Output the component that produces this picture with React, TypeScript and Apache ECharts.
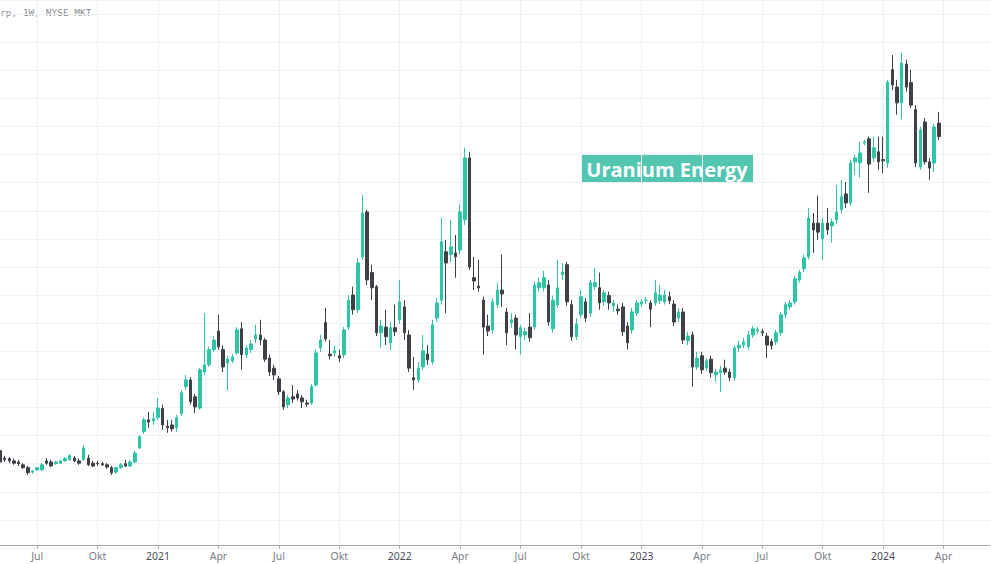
import React, { useEffect, useRef } from "react";
import * as echarts from "echarts";

// Weekly bars (Monday dates), first bar and number of category slots (incl. empty right margin)
const FIRST_WEEK = "2020-05-11";
const WEEK_SLOTS = 214;

// [open, close, low, high] in USD, one per week
const ohlc: number[][] = [
  [1.23, 1.03, 1.0, 1.28], [1.1, 1.07, 1.03, 1.14], [1.09, 1.05, 1.01, 1.12], [1.05, 1.01, 0.98, 1.09],
  [1.03, 1.0, 0.96, 1.07], [0.98, 0.93, 0.91, 1.01], [0.93, 0.84, 0.8, 0.96], [0.85, 0.87, 0.82, 0.89],
  [0.89, 0.93, 0.87, 0.94], [0.89, 0.98, 0.87, 1.01], [1.05, 1.01, 0.98, 1.1], [1.03, 0.96, 0.94, 1.07],
  [1.0, 1.03, 0.98, 1.05], [1.01, 1.05, 1.0, 1.07], [1.05, 1.09, 1.03, 1.12], [1.07, 1.14, 1.05, 1.17],
  [1.1, 1.05, 1.03, 1.14], [1.05, 1.01, 0.98, 1.09], [1.07, 1.28, 1.05, 1.33], [1.1, 0.98, 0.96, 1.16],
  [1.01, 0.96, 0.94, 1.05], [1.01, 1.0, 0.96, 1.05], [1.0, 0.98, 0.96, 1.03], [0.98, 0.94, 0.91, 1.01],
  [0.93, 0.84, 0.8, 0.96], [0.85, 0.93, 0.82, 0.94], [0.93, 0.98, 0.91, 1.01], [1.0, 0.96, 0.94, 1.07],
  [0.96, 1.03, 0.94, 1.07], [1.03, 1.19, 1.01, 1.23], [1.28, 1.48, 1.26, 1.51], [1.57, 1.78, 1.53, 1.82],
  [1.78, 1.74, 1.64, 1.92], [1.76, 1.8, 1.69, 1.92], [1.82, 1.99, 1.78, 2.17], [1.98, 1.69, 1.6, 2.05],
  [1.67, 1.64, 1.55, 1.78], [1.69, 1.62, 1.57, 1.78], [1.64, 1.82, 1.57, 1.87], [1.89, 2.26, 1.85, 2.31],
  [2.37, 2.49, 2.31, 2.58], [2.49, 2.1, 2.05, 2.54], [2.19, 2.01, 1.9, 2.24], [1.99, 2.67, 1.96, 2.7],
  [2.63, 2.76, 2.58, 3.68], [2.76, 3.03, 2.72, 3.08], [3.03, 3.2, 2.99, 3.27], [3.36, 3.08, 3.03, 3.65],
  [3.03, 2.72, 2.63, 3.11], [2.79, 2.86, 2.31, 2.92], [2.83, 2.9, 2.79, 2.95], [2.97, 3.38, 2.94, 3.43],
  [3.4, 2.94, 2.67, 3.52], [2.94, 3.06, 2.88, 3.11], [3.03, 3.13, 2.97, 3.2], [3.22, 3.29, 3.15, 3.47],
  [3.29, 3.2, 3.11, 3.56], [3.2, 2.86, 2.81, 3.24], [2.88, 2.63, 2.56, 2.94], [2.7, 2.58, 2.49, 2.76],
  [2.51, 2.28, 2.22, 2.56], [2.28, 2.01, 1.96, 2.31], [2.05, 2.17, 1.99, 2.22], [2.19, 2.15, 2.08, 2.4],
  [2.24, 2.17, 2.12, 2.31], [2.17, 2.1, 1.99, 2.22], [2.08, 2.06, 2.01, 2.14], [2.08, 2.37, 2.05, 2.42],
  [2.4, 2.97, 2.37, 3.03], [3.06, 3.2, 2.99, 3.29], [3.51, 3.22, 3.17, 3.77], [2.95, 2.92, 2.85, 3.2],
  [2.97, 3.01, 2.9, 3.1], [2.92, 2.88, 2.81, 3.03], [2.94, 3.38, 2.88, 3.43], [3.43, 3.91, 3.38, 4.0],
  [4.0, 3.74, 3.65, 4.15], [3.74, 4.57, 3.68, 4.66], [4.68, 5.46, 4.63, 5.78], [5.48, 4.27, 4.18, 5.52],
  [4.4, 4.13, 3.91, 4.54], [4.15, 3.33, 3.27, 4.18], [3.33, 3.45, 3.06, 3.56], [3.43, 3.26, 3.11, 3.74],
  [3.15, 3.42, 3.03, 3.52], [3.42, 3.35, 3.27, 3.83], [3.56, 3.88, 3.49, 4.27], [3.79, 3.33, 3.2, 3.91],
  [3.29, 2.7, 2.63, 3.38], [2.53, 2.49, 2.31, 2.9], [2.49, 2.7, 2.44, 2.81], [2.72, 3.01, 2.67, 3.29],
  [2.95, 2.85, 2.76, 3.11], [2.81, 3.47, 2.76, 3.56], [3.59, 3.86, 3.52, 3.95], [3.91, 4.95, 3.83, 5.37],
  [4.77, 4.57, 3.68, 4.98], [4.72, 4.86, 4.59, 5.34], [4.75, 4.68, 4.31, 5.07], [4.8, 5.48, 4.72, 5.61],
  [5.34, 6.44, 5.25, 6.62], [6.44, 4.5, 4.45, 6.55], [4.31, 4.25, 4.09, 4.68], [4.16, 4.13, 4.06, 4.63],
  [3.91, 3.43, 2.94, 3.97], [3.45, 3.36, 3.27, 3.65], [3.38, 3.88, 3.31, 3.95], [3.83, 4.09, 3.77, 4.22],
  [4.09, 4.02, 3.79, 4.72], [3.7, 3.33, 3.11, 3.77], [3.51, 3.56, 3.42, 3.68], [3.59, 3.29, 3.03, 3.65],
  [3.26, 3.42, 2.94, 3.47], [3.29, 3.35, 3.2, 3.42], [3.43, 3.24, 3.17, 3.68], [3.43, 4.18, 3.38, 4.24],
  [4.13, 4.22, 4.06, 4.31], [4.13, 4.31, 4.06, 4.43], [4.18, 3.52, 3.45, 4.27], [3.4, 3.91, 3.33, 3.99],
  [3.83, 4.13, 3.77, 4.63], [4.36, 4.41, 4.27, 4.57], [4.54, 3.88, 3.81, 4.59], [3.83, 3.26, 3.19, 3.91],
  [3.26, 3.49, 3.2, 3.59], [3.65, 3.97, 3.59, 4.09], [3.88, 3.59, 3.52, 3.95], [3.68, 4.22, 3.61, 4.27],
  [4.15, 4.22, 4.09, 4.48], [4.13, 3.86, 3.74, 4.4], [3.88, 4.04, 3.81, 4.09], [3.99, 3.86, 3.74, 4.06],
  [3.81, 3.86, 3.7, 3.91], [3.75, 3.72, 3.65, 3.83], [3.79, 3.35, 3.27, 3.86], [3.45, 3.15, 3.03, 3.52],
  [3.38, 3.7, 3.31, 3.77], [3.68, 3.86, 3.63, 3.91], [3.84, 3.88, 3.79, 3.93], [3.9, 3.91, 3.84, 3.97],
  [3.86, 3.75, 3.43, 3.91], [3.86, 4.04, 3.81, 4.27], [3.9, 4.0, 3.84, 4.18], [3.88, 4.0, 3.83, 4.09],
  [3.97, 3.9, 3.84, 4.06], [3.84, 3.52, 3.45, 3.91], [3.59, 3.7, 3.52, 3.77], [3.7, 3.2, 3.13, 3.77],
  [3.19, 3.27, 3.11, 3.35], [3.29, 2.72, 2.37, 3.35], [2.72, 2.88, 2.67, 2.99], [2.92, 2.67, 2.6, 2.99],
  [2.7, 2.83, 2.65, 2.88], [2.86, 2.62, 2.53, 2.92], [2.58, 2.63, 2.46, 2.69], [2.62, 2.67, 2.28, 2.74],
  [2.7, 2.63, 2.58, 2.85], [2.63, 2.53, 2.47, 2.69], [2.53, 3.06, 2.47, 3.11], [3.06, 3.11, 2.99, 3.19],
  [3.11, 3.17, 3.06, 3.24], [3.08, 3.29, 3.03, 3.36], [3.29, 3.4, 3.24, 3.45], [3.36, 3.38, 3.31, 3.43],
  [3.35, 3.33, 3.27, 3.4], [3.27, 3.11, 2.88, 3.33], [3.17, 3.1, 3.03, 3.22], [3.17, 3.33, 3.11, 3.38],
  [3.33, 3.65, 3.27, 3.7], [3.65, 3.83, 3.59, 3.88], [3.79, 3.86, 3.74, 3.91], [3.88, 4.29, 3.83, 4.34],
  [4.27, 4.4, 4.22, 4.45], [4.47, 4.66, 4.41, 4.72], [4.68, 5.37, 4.63, 5.55], [5.28, 5.16, 4.75, 5.46],
  [5.28, 5.12, 4.98, 5.77], [5.0, 5.28, 4.63, 5.37], [5.28, 5.16, 5.07, 5.55], [5.23, 5.3, 4.93, 5.36],
  [5.34, 5.48, 5.27, 5.96], [5.52, 5.75, 5.45, 6.05], [5.8, 5.64, 5.55, 6.01], [5.64, 6.35, 5.59, 6.41],
  [6.37, 6.44, 6.14, 6.5], [6.35, 6.53, 6.09, 6.73], [6.71, 6.73, 6.67, 6.76], [6.78, 6.33, 5.82, 6.82],
  [6.44, 6.62, 6.37, 6.82], [6.55, 6.37, 6.23, 6.82], [6.41, 6.39, 6.17, 6.82], [6.35, 7.79, 6.26, 7.83],
  [8.01, 7.74, 7.65, 8.27], [7.7, 7.42, 7.21, 7.83], [7.42, 8.13, 7.12, 8.31], [8.11, 7.7, 7.62, 8.19],
  [7.78, 7.38, 7.33, 8.01], [7.3, 6.35, 6.28, 7.38], [6.28, 6.94, 6.23, 6.99], [7.08, 6.37, 6.32, 7.15],
  [6.37, 6.26, 6.05, 6.44], [6.35, 6.99, 6.19, 7.05], [7.06, 6.82, 6.76, 7.26],
];

const quarterNames: Record<number, string> = { 3: "Apr", 6: "Jul", 9: "Okt" };
const priceMin = -0.5;
const priceMax = 9.25;
const priceStep = 0.5;

const TITLE_TEXT = "rp, 1W, NYSE MKT";
const BADGE_TEXT = "Uranium Energy";

const UP = "#2ec4a6";
const DOWN = "#3f4046";
const GRID = "#edf0f5";

function buildWeeks(): string[] {
  const out: string[] = [];
  const start = new Date(FIRST_WEEK + "T00:00:00Z").getTime();
  for (let i = 0; i < WEEK_SLOTS; i++) {
    out.push(new Date(start + i * 7 * 86400000).toISOString().slice(0, 10));
  }
  return out;
}

function isQuarterStart(value: string): boolean {
  const d = new Date(value + "T00:00:00Z");
  return d.getUTCDate() <= 7 && d.getUTCMonth() % 3 === 0;
}

export default function App() {
  const ref = useRef<HTMLDivElement>(null);

  useEffect(() => {
    if (!ref.current) return;
    const chart = echarts.init(ref.current, undefined, { renderer: "svg" });
    const weeks = buildWeeks();
    const qInterval = (_i: number, v: string) => isQuarterStart(v);

    chart.setOption({
      animation: false,
      backgroundColor: "#ffffff",
      grid: { left: 0, right: 1, top: 0, bottom: 16, containLabel: false },
      xAxis: {
        type: "category",
        data: weeks,
        boundaryGap: false,
        offset: -2.5,
        axisLine: { show: true, onZero: false, lineStyle: { color: "#a3a6ad", width: 1 } },
        axisTick: { show: true, interval: qInterval, length: 3, lineStyle: { color: "#a3a6ad" } },
        axisLabel: {
          interval: qInterval,
          margin: 5,
          fontFamily: "Noto Sans",
          fontSize: 10.5,
          color: "#7b7e88",
          formatter: (v: string) => {
            const d = new Date(v + "T00:00:00Z");
            const m = d.getUTCMonth();
            if (m === 0) return "{y|" + d.getUTCFullYear() + "}";
            return quarterNames[m] || "";
          },
          rich: { y: { fontFamily: "Noto Sans", fontSize: 10.5, color: "#4a4d57" } },
        },
        splitLine: { show: true, interval: qInterval, lineStyle: { color: GRID, width: 1 } },
      },
      yAxis: {
        type: "value",
        min: priceMin,
        max: priceMax,
        interval: priceStep,
        axisLine: { show: false },
        axisTick: { show: false },
        axisLabel: { show: false },
        splitLine: { show: true, lineStyle: { color: GRID, width: 1 } },
      },
      series: [
        {
          type: "candlestick",
          data: ohlc,
          barWidth: 3,
          itemStyle: {
            color: UP,
            color0: DOWN,
            borderColor: UP,
            borderColor0: DOWN,
            borderWidth: 1,
          },
        },
      ],
      graphic: [
        {
          type: "text",
          left: 0,
          top: 7,
          style: {
            text: TITLE_TEXT,
            fontFamily: "DejaVu Sans Mono",
            fontSize: 9.5,
            fill: "#8a8d94",
          },
        },
        {
          type: "rect",
          shape: { x: 581, y: 154, width: 172, height: 29 },
          style: { fill: "#52c6b0" },
        },
        {
          type: "text",
          x: 667,
          y: 169,
          style: {
            text: BADGE_TEXT,
            fontFamily: "Open Sans",
            fontWeight: "bold",
            fontSize: 20,
            fill: "#ffffff",
            align: "center",
            verticalAlign: "middle",
          },
        },
      ],
    });

    return () => chart.dispose();
  }, []);

  return (
    <div
      ref={ref}
      style={{ position: "absolute", left: 0, top: 0, width: 991, height: 564 }}
    />
  );
}
